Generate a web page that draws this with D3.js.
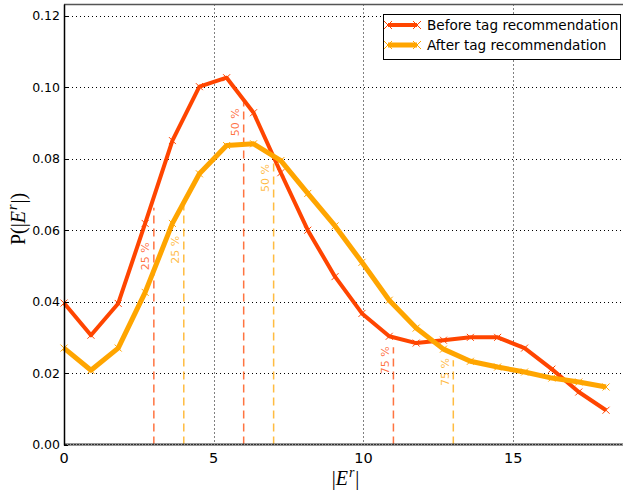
<!DOCTYPE html>
<html>
<head>
<meta charset="utf-8">
<script src="https://cdn.jsdelivr.net/npm/d3@7"></script>
<style>
  body { margin: 0; background: #fff; }
  svg { display: block; font-family: 'DejaVu Sans', sans-serif; }
</style>
</head>
<body>
<svg id="chart" width="623" height="492"></svg>
<script>
// bin positions of |E^r|
const xs = [0, 0.9, 1.81, 2.71, 3.62, 4.52, 5.43, 6.33, 7.24, 8.14, 9.05, 9.95, 10.86, 11.76, 12.67, 13.57, 14.48, 15.38, 16.29, 17.19, 18.1];
const before = [0.0396, 0.0306, 0.0395, 0.0619, 0.0851, 0.1002, 0.1027, 0.0929, 0.0761, 0.0600, 0.0470, 0.0367, 0.0303, 0.0284, 0.0292, 0.0300, 0.0300, 0.0270, 0.0211, 0.0147, 0.0096];
const after = [0.0270, 0.0208, 0.0270, 0.0426, 0.0619, 0.0758, 0.0837, 0.0842, 0.0795, 0.0703, 0.0612, 0.0510, 0.0404, 0.0326, 0.0267, 0.0233, 0.0217, 0.0203, 0.0186, 0.0175, 0.0161];

const seriesNames = ['Before tag recommendation', 'After tag recommendation'];
const percentLabels = ['25 %', '50 %', '75 %'];
const beforeQuartiles = [3, 6, 11];
const afterQuartiles = [4, 7, 13];
const beforeQuartileTop = [0.0663, 0.0968, 0.0272];
const afterQuartileTop = [0.0669, 0.0795, 0.0236];
const beforeLabelAt = [0.0527, 0.0902, 0.0236];
const afterLabelAt = [0.0545, 0.0746, 0.0203];

const xTicks = [0, 5, 10, 15];
const yTicks = [0, 0.02, 0.04, 0.06, 0.08, 0.10, 0.12];

const RED = '#ff4500';
const ORANGE = '#ffa500';

const svg = d3.select('#chart');
const M = { left: 64, right: 627, top: 4.5, bottom: 444.5 };

const x = d3.scaleLinear().domain([0, 18.8]).range([M.left, M.right]);
const y = d3.scaleLinear().domain([0, 0.1232]).range([M.bottom, M.top]);

// grid
const grid = svg.append('g');
grid.selectAll('line.gx')
  .data(xTicks.filter(d => d > 0))
  .enter().append('line')
  .attr('x1', d => Math.round(x(d)) + 0.5).attr('x2', d => Math.round(x(d)) + 0.5)
  .attr('y1', M.top).attr('y2', M.bottom)
  .attr('stroke', '#000').attr('stroke-width', 1).attr('stroke-dasharray', '1,3');
grid.selectAll('line.gy')
  .data(yTicks.filter(d => d > 0))
  .enter().append('line')
  .attr('x1', M.left).attr('x2', M.right)
  .attr('y1', d => Math.round(y(d)) + 0.5).attr('y2', d => Math.round(y(d)) + 0.5)
  .attr('stroke', '#000').attr('stroke-width', 1).attr('stroke-dasharray', '1,3');

// quartile markers
function quartiles(pos, tops, labelAt, color) {
  const g = svg.append('g');
  g.selectAll('line')
    .data(pos)
    .enter().append('line')
    .attr('x1', d => x(d)).attr('x2', d => x(d))
    .attr('y1', M.bottom).attr('y2', (d, i) => y(tops[i]))
    .attr('stroke', color).attr('stroke-opacity', 0.75)
    .attr('stroke-width', 1.5).attr('stroke-dasharray', '8,5');
  g.selectAll('text')
    .data(pos)
    .enter().append('text')
    .attr('transform', (d, i) => `translate(${x(d) - 8},${y(labelAt[i])}) rotate(-90)`)
    .attr('text-anchor', 'middle')
    .attr('dominant-baseline', 'central')
    .attr('font-size', 11)
    .attr('fill', color).attr('fill-opacity', 0.75)
    .text((d, i) => percentLabels[i]);
}
quartiles(beforeQuartiles, beforeQuartileTop, beforeLabelAt, RED);
quartiles(afterQuartiles, afterQuartileTop, afterLabelAt, ORANGE);

// curves
const line = d3.line().x(d => x(d[0])).y(d => y(d[1]));
const xMark = (sel, s) => sel.attr('d', `M${-s},${-s}L${s},${s}M${-s},${s}L${s},${-s}`);

function curve(vals, color, width) {
  const pts = xs.map((d, i) => [d, vals[i]]);
  svg.append('path')
    .datum(pts)
    .attr('d', line)
    .attr('fill', 'none')
    .attr('stroke', color)
    .attr('stroke-width', width)
    .attr('stroke-linejoin', 'round');
  svg.append('g').selectAll('path')
    .data(pts)
    .enter().append('path')
    .attr('transform', d => `translate(${x(d[0])},${y(d[1])})`)
    .call(xMark, 3.5)
    .attr('stroke', color).attr('stroke-width', 1).attr('fill', 'none');
}
curve(before, RED, 4);
curve(after, ORANGE, 5);

// frame
svg.append('line').attr('x1', M.left).attr('x2', M.right).attr('y1', M.top).attr('y2', M.top)
  .attr('stroke', '#555').attr('stroke-width', 1.5);
svg.append('line').attr('x1', M.left).attr('x2', M.right).attr('y1', M.bottom).attr('y2', M.bottom)
  .attr('stroke', '#333').attr('stroke-width', 2);
svg.append('line').attr('x1', M.left).attr('x2', M.right).attr('y1', M.bottom).attr('y2', M.bottom)
  .attr('stroke', '#999').attr('stroke-width', 2).attr('stroke-dasharray', '1,2');
svg.append('line').attr('x1', M.left + 0.5).attr('x2', M.left + 0.5).attr('y1', M.top).attr('y2', M.bottom + 1)
  .attr('stroke', '#000').attr('stroke-width', 1.5);

// y ticks
const yAxis = svg.append('g');
yAxis.selectAll('line')
  .data(yTicks)
  .enter().append('line')
  .attr('x1', M.left).attr('x2', M.left + 4)
  .attr('y1', d => Math.round(y(d)) + 0.5).attr('y2', d => Math.round(y(d)) + 0.5)
  .attr('stroke', '#000');
yAxis.selectAll('text')
  .data(yTicks)
  .enter().append('text')
  .attr('x', M.left - 4)
  .attr('y', d => y(d))
  .attr('text-anchor', 'end')
  .attr('dominant-baseline', 'central')
  .attr('font-size', 12.5)
  .text(d => d3.format('.2f')(d));

// x ticks
svg.append('g').selectAll('text')
  .data(xTicks)
  .enter().append('text')
  .attr('x', d => x(d))
  .attr('y', 463)
  .attr('text-anchor', 'middle')
  .attr('font-size', 14.5)
  .text(d => d);

// axis labels
const xl = svg.append('text')
  .attr('x', (M.left + M.right) / 2).attr('y', 485)
  .attr('text-anchor', 'middle')
  .attr('font-family', 'Liberation Serif, serif')
  .attr('font-size', 20);
xl.append('tspan').text('|');
xl.append('tspan').attr('font-style', 'italic').text('E');
xl.append('tspan').attr('font-style', 'italic').attr('font-size', 14).attr('dx', 1).attr('dy', -8).text('r');
xl.append('tspan').attr('dx', 1).attr('dy', 8).text('|');

const yl = svg.append('text')
  .attr('transform', 'translate(25,219) rotate(-90)')
  .attr('text-anchor', 'middle')
  .attr('font-family', 'Liberation Serif, serif')
  .attr('font-size', 20);
yl.append('tspan').text('P(|');
yl.append('tspan').attr('font-style', 'italic').text('E');
yl.append('tspan').attr('font-style', 'italic').attr('font-size', 14).attr('dx', 1).attr('dy', -8).text('r');
yl.append('tspan').attr('dx', 1).attr('dy', 8).text('|)');

// legend
const legend = svg.append('g');
legend.append('rect')
  .attr('x', 383.5).attr('y', 14.5).attr('width', 237).attr('height', 45)
  .attr('fill', '#fff').attr('stroke', '#000').attr('stroke-width', 1);
const items = legend.selectAll('g.item')
  .data(seriesNames)
  .enter().append('g')
  .attr('transform', (d, i) => `translate(0,${25 + i * 20})`);
items.append('line')
  .attr('x1', 388).attr('x2', 417).attr('y1', 0).attr('y2', 0)
  .attr('stroke', (d, i) => i ? ORANGE : RED)
  .attr('stroke-width', (d, i) => i ? 5 : 4);
items.selectAll('path')
  .data((d, i) => [[388, i], [417, i]])
  .enter().append('path')
  .attr('transform', d => `translate(${d[0]},0)`)
  .call(xMark, 4)
  .attr('stroke', d => d[1] ? ORANGE : RED).attr('stroke-width', 1).attr('fill', 'none');
items.append('text')
  .attr('x', 427).attr('y', 0)
  .attr('dominant-baseline', 'central')
  .attr('font-size', 13.6)
  .text(d => d);
</script>
</body>
</html>
